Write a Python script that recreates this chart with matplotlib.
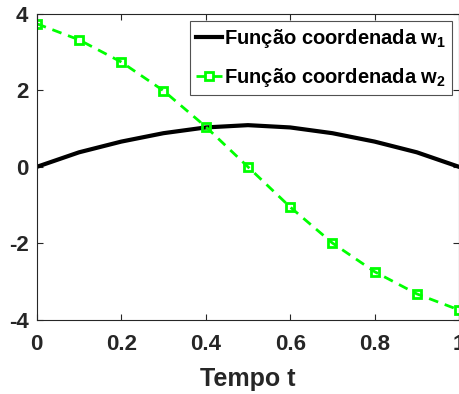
import matplotlib
matplotlib.use("Agg")
import matplotlib.pyplot as plt
import numpy as np

t = [0.0, 0.1, 0.2, 0.3, 0.4, 0.5, 0.6, 0.7, 0.8, 0.9, 1.0]
w1 = [0.0, 0.38, 0.66, 0.88, 1.03, 1.09, 1.03, 0.88, 0.66, 0.38, 0.0]
w2 = [3.74, 3.32, 2.74, 1.99, 1.05, 0.0, -1.05, -1.99, -2.74, -3.32, -3.74]
xticks = [0, 0.2, 0.4, 0.6, 0.8, 1]
xticklabels = ["0", "0.2", "0.4", "0.6", "0.8", "1"]
yticks = [-4, -2, 0, 2, 4]
yticklabels = ["-4", "-2", "0", "2", "4"]

plt.rcParams['font.family'] = ['Liberation Sans', 'DejaVu Sans']
plt.rcParams['font.weight'] = 'bold'
plt.rcParams['mathtext.fontset'] = 'custom'
plt.rcParams['mathtext.rm'] = 'Liberation Sans:bold'
plt.rcParams['mathtext.bf'] = 'Liberation Sans:bold'
plt.rcParams['mathtext.it'] = 'Liberation Sans:bold'

fig = plt.figure(figsize=(4.6, 3.94), dpi=100)
ax = fig.add_axes([0.080, 0.188, 0.918, 0.777])
ax.plot(t, w1, color='black', lw=3, label='Função coordenada w$_\\mathbf{1}$')
ax.plot(t, w2, color='#00ff00', lw=2, ls=(0, (3.5, 2.5)), marker='s', ms=6,
        mfc='none', mec='#00ff00', mew=2, label='Função coordenada w$_\\mathbf{2}$')
ax.set_xlim(0, 1)
ax.set_ylim(-4, 4)
ax.set_xticks(xticks)
ax.set_xticklabels(xticklabels)
ax.set_yticks(yticks)
ax.set_yticklabels(yticklabels)
ax.tick_params(direction='in', length=4, width=0.8, colors='#262626', labelsize=16,
               top=True, right=True)
ax.tick_params(axis='x', pad=10)
ax.tick_params(axis='y', pad=6)
for lab in ax.get_xticklabels() + ax.get_yticklabels():
    lab.set_fontweight('bold')
for s in ax.spines.values():
    s.set_color('#262626')
    s.set_linewidth(0.8)
ax.set_xlabel('Tempo t', fontsize=18, fontweight='bold', color='#262626', labelpad=9)
leg = ax.legend(loc='upper right', fontsize=14.5, frameon=True, fancybox=False,
                edgecolor='#262626', handlelength=1.3, handletextpad=0.1,
                borderpad=0.3, labelspacing=0.8, borderaxespad=0.35)
leg.get_frame().set_linewidth(0.8)
for txt in leg.get_texts():
    txt.set_fontweight('bold')
fig.savefig('out.png', dpi=100)
